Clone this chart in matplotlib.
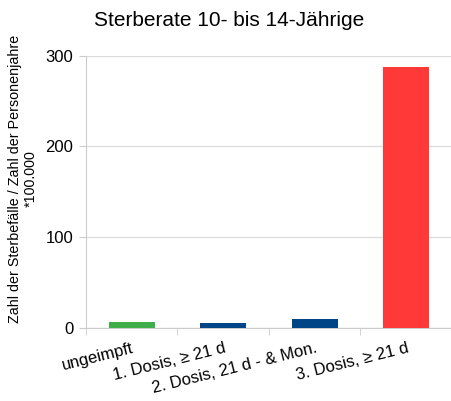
import numpy as np
import matplotlib.pyplot as plt

plt.rcParams['font.family'] = ['Liberation Sans', 'DejaVu Sans']

categories = ['ungeimpft', '1. Dosis, ≥ 21 d', '2. Dosis, 21 d - & Mon.', '3. Dosis, ≥ 21 d']
values = [6.6, 5.2, 9.9, 288.0]
colors = ['#3fae49', '#004586', '#004586', '#ff3838']

fig = plt.figure(figsize=(4.52, 4.01), dpi=100)
ax = fig.add_axes([86 / 452, 1 - 328 / 401, 1 - 86 / 452, (328 - 55.7) / 401])

x = np.arange(len(categories))
ax.bar(x, values, width=0.5, color=colors, zorder=3)

ax.set_ylim(0, 300)
ax.set_xlim(-0.5, 3.5 - 6 / 93)
ax.set_yticks([0, 100, 200, 300])
ax.grid(axis='y', color='#dddddd', linewidth=1, zorder=0)

ax.set_xticks(x)
ax.set_xticklabels(categories, rotation=14, ha='right', rotation_mode='anchor', fontsize=12)
ax.set_xticks(np.arange(-0.5, 3.6, 1), minor=True)
ax.tick_params(axis='x', which='major', length=0, pad=9)
ax.tick_params(axis='x', which='minor', length=5, color='#cccccc')
ax.tick_params(axis='y', length=5, color='#cccccc', labelsize=12, pad=4)

for s in ['top', 'right']:
    ax.spines[s].set_visible(False)
for s in ['left', 'bottom']:
    ax.spines[s].set_color('#cccccc')

ax.set_ylabel('Zahl der Sterbefälle / Zahl der Personenjahre\n*100.000', fontsize=10.3)
ax.yaxis.set_label_coords(-48 / 366, (328 - 179) / 272.3)
fig.text(229 / 452, 1 - 20 / 401, 'Sterberate 10- bis 14-Jährige', ha='center', va='center', fontsize=15)

fig.savefig('out.png', dpi=100)
